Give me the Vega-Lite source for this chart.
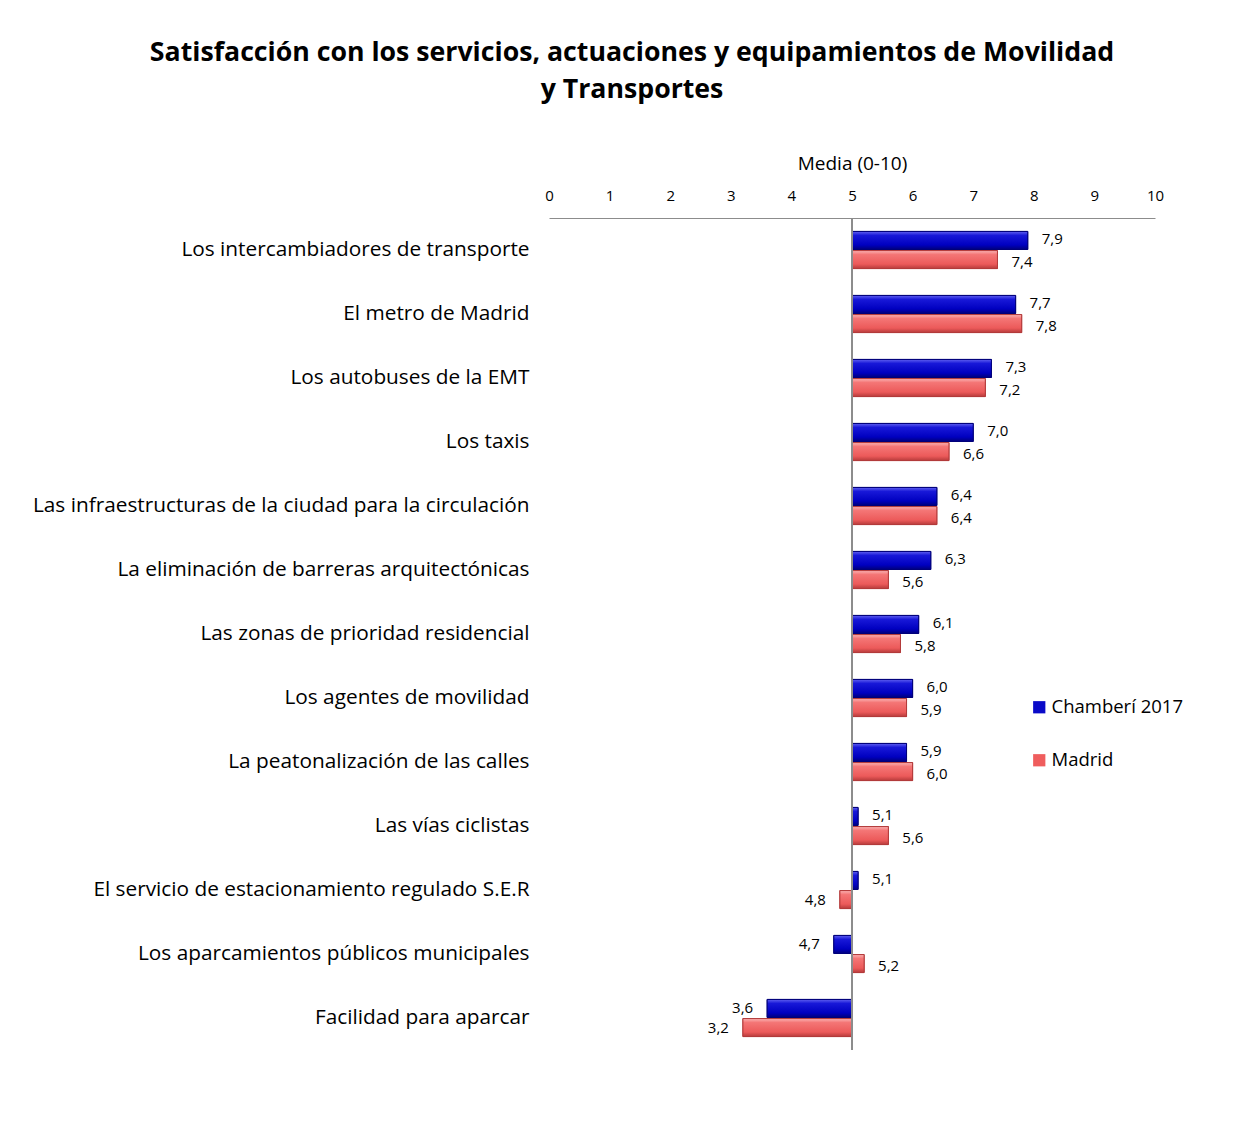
{
  "$schema": "https://vega.github.io/schema/vega-lite/v6.json",
  "autosize": {"type": "none"},
  "padding": {"left": 549, "top": 218, "right": 100, "bottom": 91},
  "width": 606,
  "height": 832,
  "background": "white",
  "config": {
    "locale": {"number": {"decimal": ",", "thousands": ".", "grouping": [3], "currency": ["", " €"]}},
    "font": "Open Sans",
    "view": {"stroke": null}
  },
  "title": {
    "text": ["Satisfacción con los servicios, actuaciones y equipamientos de Movilidad", "y Transportes"],
    "fontSize": 26.7,
    "fontWeight": "bold",
    "font": "Open Sans",
    "color": "black",
    "anchor": "middle",
    "frame": "group",
    "dx": -220,
    "offset": 50,
    "lineHeight": 37
  },
  "data": {
    "values": [
      {"item": "Los intercambiadores de transporte", "serie": "Chamberí 2017", "valor": 7.9},
      {"item": "Los intercambiadores de transporte", "serie": "Madrid", "valor": 7.4},
      {"item": "El metro de Madrid", "serie": "Chamberí 2017", "valor": 7.7},
      {"item": "El metro de Madrid", "serie": "Madrid", "valor": 7.8},
      {"item": "Los autobuses de la EMT", "serie": "Chamberí 2017", "valor": 7.3},
      {"item": "Los autobuses de la EMT", "serie": "Madrid", "valor": 7.2},
      {"item": "Los taxis", "serie": "Chamberí 2017", "valor": 7.0},
      {"item": "Los taxis", "serie": "Madrid", "valor": 6.6},
      {"item": "Las infraestructuras de la ciudad para la circulación", "serie": "Chamberí 2017", "valor": 6.4},
      {"item": "Las infraestructuras de la ciudad para la circulación", "serie": "Madrid", "valor": 6.4},
      {"item": "La eliminación de barreras arquitectónicas", "serie": "Chamberí 2017", "valor": 6.3},
      {"item": "La eliminación de barreras arquitectónicas", "serie": "Madrid", "valor": 5.6},
      {"item": "Las zonas de prioridad residencial", "serie": "Chamberí 2017", "valor": 6.1},
      {"item": "Las zonas de prioridad residencial", "serie": "Madrid", "valor": 5.8},
      {"item": "Los agentes de movilidad", "serie": "Chamberí 2017", "valor": 6.0},
      {"item": "Los agentes de movilidad", "serie": "Madrid", "valor": 5.9},
      {"item": "La peatonalización de las calles", "serie": "Chamberí 2017", "valor": 5.9},
      {"item": "La peatonalización de las calles", "serie": "Madrid", "valor": 6.0},
      {"item": "Las vías ciclistas", "serie": "Chamberí 2017", "valor": 5.1},
      {"item": "Las vías ciclistas", "serie": "Madrid", "valor": 5.6},
      {"item": "El servicio de estacionamiento regulado S.E.R", "serie": "Chamberí 2017", "valor": 5.1},
      {"item": "El servicio de estacionamiento regulado S.E.R", "serie": "Madrid", "valor": 4.8},
      {"item": "Los aparcamientos públicos municipales", "serie": "Chamberí 2017", "valor": 4.7},
      {"item": "Los aparcamientos públicos municipales", "serie": "Madrid", "valor": 5.2},
      {"item": "Facilidad para aparcar", "serie": "Chamberí 2017", "valor": 3.6},
      {"item": "Facilidad para aparcar", "serie": "Madrid", "valor": 3.2}
    ]
  },
  "layer": [
    {
      "mark": {"type": "bar", "strokeWidth": 1},
      "encoding": {
        "y": {
          "field": "item",
          "type": "nominal",
          "sort": null,
          "scale": {"paddingInner": 0.42, "paddingOuter": 0.21},
          "axis": {
            "title": null,
            "domain": false,
            "ticks": false,
            "labelFontSize": 20.8,
            "labelColor": "black",
            "labelPadding": 20,
            "labelLimit": 0
          }
        },
        "yOffset": {
          "field": "serie",
          "type": "nominal",
          "sort": ["Chamberí 2017", "Madrid"],
          "scale": {"paddingInner": 0.06}
        },
        "x": {
          "field": "valor",
          "type": "quantitative",
          "scale": {"domain": [0, 10], "nice": false},
          "axis": {
            "orient": "top",
            "title": "Media (0-10)",
            "titleFontSize": 19,
            "titleFontWeight": "normal",
            "titleColor": "black",
            "titlePadding": 15,
            "values": [0, 1, 2, 3, 4, 5, 6, 7, 8, 9, 10],
            "format": "d",
            "labelFontSize": 15,
            "labelColor": "black",
            "labelPadding": 15,
            "labelOverlap": false,
            "ticks": false,
            "grid": false,
            "domainColor": "#8c8c8c",
            "labelFlush": false
          }
        },
        "x2": {"datum": 5},
        "color": {
          "field": "serie",
          "type": "nominal",
          "sort": ["Chamberí 2017", "Madrid"],
          "scale": {"domain": ["Chamberí 2017", "Madrid"], "range": ["#0a0ac8", "#ef5d5d"]},
          "legend": {
            "title": null,
            "orient": "none",
            "legendX": 481,
            "legendY": 480,
            "direction": "vertical",
            "symbolType": "square",
            "symbolSize": 150,
            "symbolStrokeWidth": 0,
            "labelFontSize": 18.5,
            "labelColor": "black",
            "labelOffset": 3,
            "rowPadding": 34
          }
        },
        "stroke": {
          "field": "serie",
          "type": "nominal",
          "scale": {"domain": ["Chamberí 2017", "Madrid"], "range": ["#00007a", "#b23a3a"]},
          "legend": null
        }
      }
    },
    {
      "transform": [{"filter": "datum.serie == 'Chamberí 2017'"}],
      "mark": {
        "type": "bar",
        "stroke": "#00007a",
        "strokeWidth": 1,
        "color": {"gradient": "linear", "x1": 0, "y1": 0, "x2": 0, "y2": 1, "stops": [
          {"offset": 0, "color": "#6060f0"},
          {"offset": 0.22, "color": "#1818d8"},
          {"offset": 0.75, "color": "#0000c0"},
          {"offset": 1, "color": "#00007e"}
        ]}
      },
      "encoding": {
        "y": {"field": "item", "type": "nominal", "sort": null},
        "yOffset": {"field": "serie", "type": "nominal", "sort": ["Chamberí 2017", "Madrid"]},
        "x": {"field": "valor", "type": "quantitative"},
        "x2": {"datum": 5}
      }
    },
    {
      "transform": [{"filter": "datum.serie == 'Madrid'"}],
      "mark": {
        "type": "bar",
        "stroke": "#b23a3a",
        "strokeWidth": 1,
        "color": {"gradient": "linear", "x1": 0, "y1": 0, "x2": 0, "y2": 1, "stops": [
          {"offset": 0, "color": "#fbb4b4"},
          {"offset": 0.22, "color": "#f47676"},
          {"offset": 0.75, "color": "#ec5a5a"},
          {"offset": 1, "color": "#b83c3c"}
        ]}
      },
      "encoding": {
        "y": {"field": "item", "type": "nominal", "sort": null},
        "yOffset": {"field": "serie", "type": "nominal", "sort": ["Chamberí 2017", "Madrid"]},
        "x": {"field": "valor", "type": "quantitative"},
        "x2": {"datum": 5}
      }
    },
    {
      "mark": {"type": "rule", "color": "#8c8c8c", "strokeWidth": 1},
      "encoding": {"x": {"datum": 5}}
    },
    {
      "transform": [{"filter": "datum.valor >= 5 && datum.serie == 'Chamberí 2017'"}],
      "mark": {"type": "text", "align": "left", "baseline": "middle", "dx": 14, "dy": -1, "fontSize": 15, "color": "black"},
      "encoding": {
        "y": {"field": "item", "type": "nominal", "sort": null},
        "yOffset": {"field": "serie", "type": "nominal", "sort": ["Chamberí 2017", "Madrid"]},
        "x": {"field": "valor", "type": "quantitative"},
        "text": {"field": "valor", "type": "quantitative", "format": ".1f"}
      }
    },
    {
      "transform": [{"filter": "datum.valor >= 5 && datum.serie == 'Madrid'"}],
      "mark": {"type": "text", "align": "left", "baseline": "middle", "dx": 14, "dy": 2, "fontSize": 15, "color": "black"},
      "encoding": {
        "y": {"field": "item", "type": "nominal", "sort": null},
        "yOffset": {"field": "serie", "type": "nominal", "sort": ["Chamberí 2017", "Madrid"]},
        "x": {"field": "valor", "type": "quantitative"},
        "text": {"field": "valor", "type": "quantitative", "format": ".1f"}
      }
    },
    {
      "transform": [{"filter": "datum.valor < 5"}],
      "mark": {"type": "text", "align": "right", "baseline": "middle", "dx": -14, "fontSize": 15, "color": "black"},
      "encoding": {
        "y": {"field": "item", "type": "nominal", "sort": null},
        "yOffset": {"field": "serie", "type": "nominal", "sort": ["Chamberí 2017", "Madrid"]},
        "x": {"field": "valor", "type": "quantitative"},
        "text": {"field": "valor", "type": "quantitative", "format": ".1f"}
      }
    }
  ]
}
